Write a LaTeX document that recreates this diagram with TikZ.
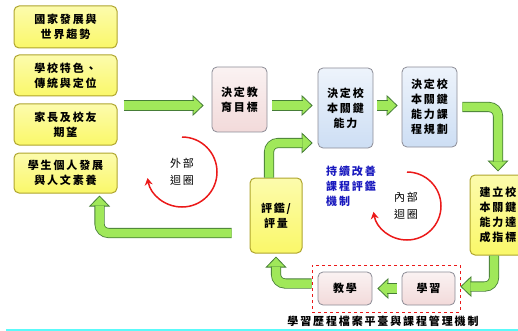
\documentclass[tikz,border=0pt]{standalone}
\usepackage{fontspec}
\usetikzlibrary{arrows.meta}
\newfontfamily\zh{Noto Sans CJK TC}[LetterSpace=17]
\definecolor{yy}{RGB}{250, 248, 105}
\definecolor{ye}{RGB}{175, 165, 45}
\definecolor{pk}{RGB}{242, 218, 218}
\definecolor{bl}{RGB}{205, 222, 244}
\definecolor{gy}{RGB}{140, 140, 150}
\definecolor{lg}{RGB}{160, 232, 90}
\definecolor{dg}{RGB}{70, 125, 55}
\definecolor{rd}{RGB}{235, 25, 25}
\definecolor{bt}{RGB}{25, 25, 190}
\definecolor{cy}{RGB}{90, 250, 250}

\begin{document}
\begin{tikzpicture}[every node/.style={inner sep=0pt, font=\zh\bfseries\fontsize{11}{15}\selectfont},
ybox/.style={draw=ye, line width=1pt, rounded corners=5pt, top color=yy!55!white, bottom color=yy, align=center},
pbox/.style={draw=gy, line width=.8pt, rounded corners=5pt, top color=pk!35!white, bottom color=pk, align=center},
bbox/.style={draw=gy, line width=.8pt, rounded corners=5pt, top color=bl!35!white, bottom color=bl, align=center},
fat/.style={draw=dg, line width=.8pt, double=lg, double distance=8.5pt, rounded corners=9pt},
tip/.style={draw=lg, line width=.8pt, -{Triangle[length=11pt, width=21pt, color=dg, fill=lg, line width=.8pt]}},
loop/.style={rd, line width=1.5pt, -{Stealth[length=7pt, width=8pt]}},
looptext/.style={align=center, font=\zh\fontsize{11}{17}\selectfont}]
\useasboundingbox (0pt,0pt) rectangle (518pt,-331pt);
\clip (0pt,0pt) rectangle (518pt,-331pt);
% left column
\node (g1) [ybox, minimum width=103pt, minimum height=42pt] at (65.5pt, -27pt) {國家發展與\\世界趨勢};
\node (g2) [ybox, minimum width=103pt, minimum height=41pt] at (65.5pt, -75.5pt) {學校特色、\\傳統與定位};
\node (g3) [ybox, minimum width=103pt, minimum height=41pt] at (65.5pt, -124.5pt) {家長及校友\\期望};
\node (g4) [ybox, minimum width=103pt, minimum height=40pt] at (65.5pt, -173pt) {學生個人發展\\與人文素養};
% top row
\node (jy) [pbox, minimum width=55pt, minimum height=65pt] at (239.5pt, -99.5pt) {決定教\\育目標};
\node (bk) [bbox, minimum width=55pt, minimum height=80pt] at (345.5pt, -108pt) {決定校\\本關鍵\\能力};
\node (kc) [bbox, minimum width=55pt, minimum height=80pt] at (429.5pt, -107pt) {決定校\\本關鍵\\能力課\\程規劃};
\node (jl) [ybox, minimum width=56pt, minimum height=80pt] at (498pt, -215pt) {建立校\\本關鍵\\能力達\\成指標};
\node (pj) [ybox, minimum width=52pt, minimum height=75pt] at (276pt, -215.5pt) {評鑑/\\評量};
% bottom row
\node (pl) [draw=rd, dashed, line width=.7pt, minimum width=148pt, minimum height=47pt] at (386pt, -288.5pt) {};
\node (xx) [pbox, minimum width=53pt, minimum height=33pt] at (428.5pt, -288.5pt) {學習};
\node (jx) [pbox, minimum width=54pt, minimum height=33pt] at (345pt, -288.5pt) {教學};
\node (cap) at (383pt, -321pt) {學習歷程檔案平臺與課程管理機制};
% texts and loops
\node (cx) [bt, align=left, anchor=west] at (326pt, -186pt) {持續改善\\課程評鑑\\機制};
\node (wb) [looptext] at (182pt, -172pt) {外部\\迴圈};
\node (nb) [looptext] at (406pt, -206pt) {內部\\迴圈};
\draw [loop] ([yshift=35pt]wb.center) arc[start angle=90, end angle=-170, radius=35pt];
\draw [loop] ([xshift=1pt,yshift=34pt]nb.center) arc[start angle=90, end angle=-170, radius=34pt];
% arrows
\coordinate (ta) at ([xshift=-8pt,yshift=-6pt]jy.west);
\coordinate (tb) at ([xshift=-5pt,yshift=2.5pt]bk.west);
\coordinate (tc) at ([xshift=-4pt,yshift=1.5pt]kc.west);
\coordinate (td) at ([yshift=3pt]jl.north);
\coordinate (te) at ([xshift=5pt,yshift=2pt]xx.east);
\coordinate (tf) at ([xshift=5pt]jx.east);
\coordinate (tg) at ([yshift=-3pt]pj.south);
\coordinate (th) at ([xshift=-5pt,yshift=-35pt]bk.west);
\coordinate (ti) at ([xshift=34pt,yshift=-2pt]g4.south);
\draw [tip] ([xshift=-11pt]ta) -- (ta);
\draw [fat] ([xshift=6pt,yshift=19pt]g3.east) -- ([xshift=-10pt]ta);
\draw [tip] ([xshift=-11pt]tb) -- (tb);
\draw [fat] ([xshift=5pt,yshift=-6pt]jy.east) -- ([xshift=-10pt]tb);
\draw [tip] ([xshift=-11pt]tc) -- (tc);
\draw [fat] ([xshift=4pt,yshift=2.5pt]bk.east) -- ([xshift=-10pt]tc);
\draw [tip] ([yshift=11pt]td) -- (td);
\draw [fat] ([xshift=5pt]kc.east) -| ([yshift=10pt]td);
\draw [tip] ([xshift=11pt]te) -- (te);
\draw [fat] ([xshift=-4pt]jl.south) |- ([xshift=10pt]te);
\draw [tip] ([xshift=11pt]tf) -- (tf);
\draw [fat] ([xshift=-5pt]xx.west) -- ([xshift=10pt]tf);
\draw [tip] ([yshift=-11pt]tg) -- (tg);
\draw [fat] ([yshift=5pt]pl.west) -| ([yshift=-10pt]tg);
\draw [tip] ([xshift=-11pt]th) -- (th);
\draw [fat] ([xshift=-7pt]pj.north) |- ([xshift=-10pt]th);
\draw [tip] ([yshift=-11pt]ti) -- (ti);
\draw [fat] ([xshift=-18pt,yshift=-17.5pt]pj.west) -| ([yshift=-10pt]ti);
\draw [cy, line width=2pt] (6pt, -330pt) -- (518pt, -330pt);
\end{tikzpicture}
\end{document}
